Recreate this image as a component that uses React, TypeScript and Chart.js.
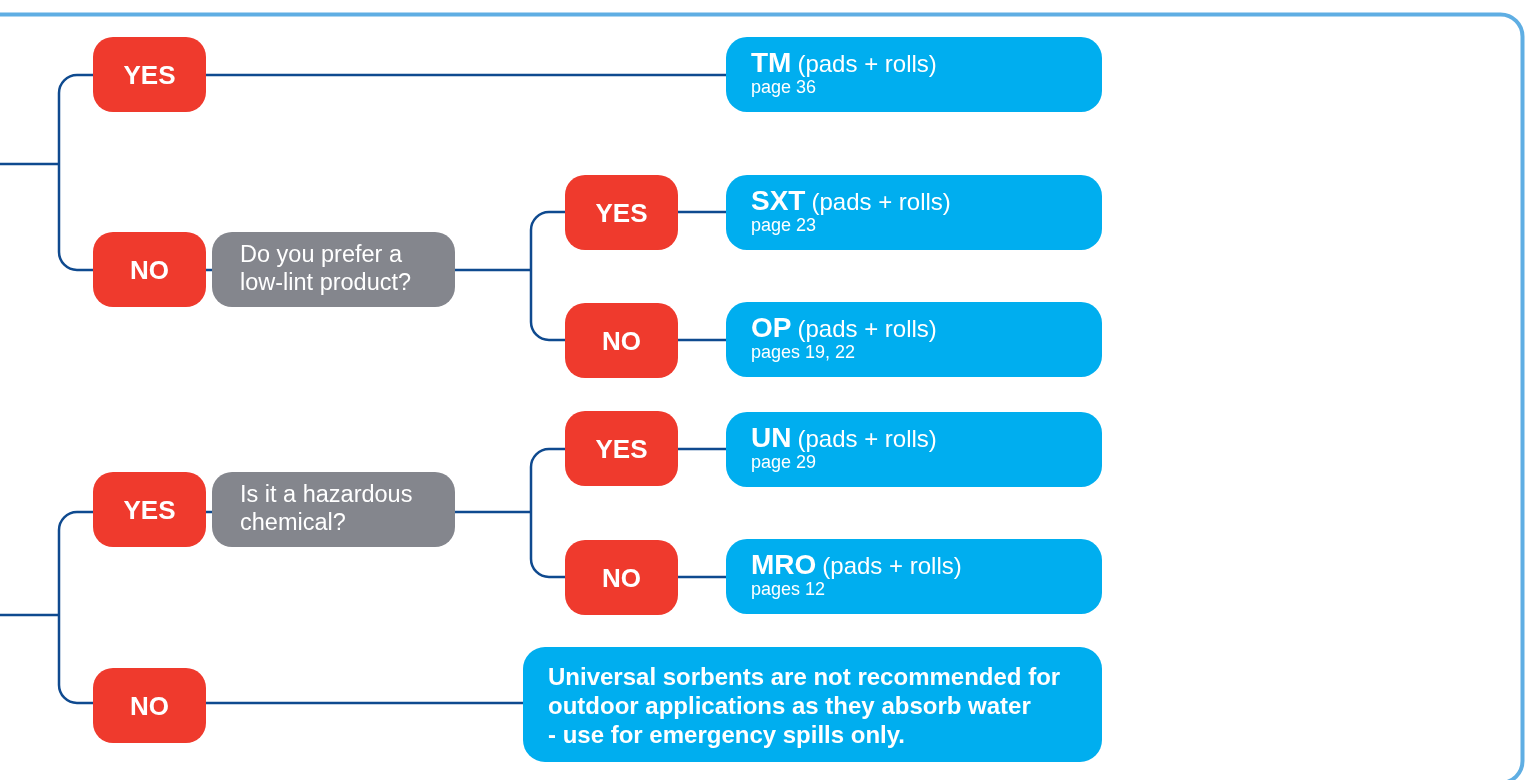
import React, { useEffect, useRef } from "react";
import { Chart, registerables } from "chart.js";

Chart.register(...registerables);

// ---- content ----
const answerLabels = ["YES", "NO", "YES", "NO", "YES", "NO", "YES", "NO"];
const questionLines = [
  ["Do you prefer a", "low-lint product?"],
  ["Is it a hazardous", "chemical?"],
];
const productCodes = ["TM", "SXT", "OP", "UN", "MRO"];
const productSuffix = "(pads + rolls)";
const productPages = ["page 36", "page 23", "pages 19, 22", "page 29", "pages 12"];
const noteLines = [
  "Universal sorbents are not recommended for",
  "outdoor applications as they absorb water",
  "- use for emergency spills only.",
];

// ---- layout (data units of the hidden 0..1525 x 0..780 scales) ----
// answers: [x0, y0, x1, y1]
const answerBoxes = [
  [93, 37, 206, 112],
  [93, 232, 206, 307],
  [565, 175, 678, 250],
  [565, 303, 678, 378],
  [565, 411, 678, 486],
  [565, 540, 678, 615],
  [93, 472, 206, 547],
  [93, 668, 206, 743],
];
const questionBoxes = [
  [212, 232, 455, 307],
  [212, 472, 455, 547],
];
const productBoxes = [
  [726, 37, 1102, 112],
  [726, 175, 1102, 250],
  [726, 302, 1102, 377],
  [726, 412, 1102, 487],
  [726, 539, 1102, 614],
];
const noteBox = [523, 647, 1102, 762];
const connectors = [
  [[0, 164], [59, 164]],
  [[93, 75], [59, 75], [59, 270], [93, 270]],
  [[206, 75], [726, 75]],
  [[206, 270], [212, 270]],
  [[455, 270], [531, 270]],
  [[565, 212], [531, 212], [531, 340], [565, 340]],
  [[678, 212], [726, 212]],
  [[678, 340], [726, 340]],
  [[0, 615], [59, 615]],
  [[93, 512], [59, 512], [59, 703], [93, 703]],
  [[206, 512], [212, 512]],
  [[455, 512], [531, 512]],
  [[565, 449], [531, 449], [531, 577], [565, 577]],
  [[678, 449], [726, 449]],
  [[678, 577], [726, 577]],
  [[206, 703], [523, 703]],
];
const frameBox = [-30, 14.5, 1522.5, 783];

const COLORS = {
  red: "#EF3A2D",
  cyan: "#00AEEF",
  gray: "#84868D",
  line: "#0F4A8F",
  frame: "#5FAEE3",
  text: "#FFFFFF",
};
const FONT = "'Liberation Sans', Arial, Helvetica, sans-serif";

function roundRect(ctx: CanvasRenderingContext2D, x0: number, y0: number, x1: number, y1: number, r: number) {
  ctx.beginPath();
  ctx.moveTo(x0 + r, y0);
  ctx.arcTo(x1, y0, x1, y1, r);
  ctx.arcTo(x1, y1, x0, y1, r);
  ctx.arcTo(x0, y1, x0, y0, r);
  ctx.arcTo(x0, y0, x1, y0, r);
  ctx.closePath();
}

const flowPlugin = {
  id: "flow",
  afterDraw(chart: any) {
    const ctx: CanvasRenderingContext2D = chart.ctx;
    const xs = chart.scales.x;
    const ys = chart.scales.y;
    const px = (v: number) => xs.getPixelForValue(v);
    const py = (v: number) => ys.getPixelForValue(v);
    const rect = (b: number[]) => [px(b[0]), py(b[1]), px(b[2]), py(b[3])];

    ctx.save();
    // frame
    const f = rect(frameBox);
    roundRect(ctx, f[0], f[1], f[2], f[3], 22);
    ctx.strokeStyle = COLORS.frame;
    ctx.lineWidth = 4;
    ctx.stroke();

    // connectors
    ctx.strokeStyle = COLORS.line;
    ctx.lineWidth = 2.5;
    ctx.lineJoin = "round";
    connectors.forEach((pts) => {
      ctx.beginPath();
      ctx.moveTo(px(pts[0][0]), py(pts[0][1]));
      for (let i = 1; i < pts.length - 1; i++) {
        ctx.arcTo(px(pts[i][0]), py(pts[i][1]), px(pts[i + 1][0]), py(pts[i + 1][1]), 18);
      }
      const last = pts[pts.length - 1];
      ctx.lineTo(px(last[0]), py(last[1]));
      ctx.stroke();
    });

    ctx.textBaseline = "alphabetic";
    ctx.fillStyle = COLORS.text;

    // answers
    answerBoxes.forEach((b, i) => {
      const r = rect(b);
      roundRect(ctx, r[0], r[1], r[2], r[3], 20);
      ctx.fillStyle = COLORS.red;
      ctx.fill();
      ctx.fillStyle = COLORS.text;
      ctx.font = `bold 26px ${FONT}`;
      ctx.textAlign = "center";
      ctx.fillText(answerLabels[i], (r[0] + r[2]) / 2, (r[1] + r[3]) / 2 + 9);
    });

    // questions
    questionBoxes.forEach((b, i) => {
      const r = rect(b);
      roundRect(ctx, r[0], r[1], r[2], r[3], 20);
      ctx.fillStyle = COLORS.gray;
      ctx.fill();
      ctx.fillStyle = COLORS.text;
      ctx.font = `23.5px ${FONT}`;
      ctx.textAlign = "left";
      questionLines[i].forEach((ln, k) => {
        ctx.fillText(ln, r[0] + 28, r[1] + 30 + k * 28);
      });
    });

    // products
    productBoxes.forEach((b, i) => {
      const r = rect(b);
      roundRect(ctx, r[0], r[1], r[2], r[3], 21);
      ctx.fillStyle = COLORS.cyan;
      ctx.fill();
      ctx.fillStyle = COLORS.text;
      ctx.textAlign = "left";
      ctx.font = `bold 28px ${FONT}`;
      const tx = r[0] + 25;
      ctx.fillText(productCodes[i], tx, r[1] + 35);
      const w = ctx.measureText(productCodes[i]).width;
      ctx.font = `24px ${FONT}`;
      ctx.fillText(productSuffix, tx + w + 6, r[1] + 35);
      ctx.font = `18px ${FONT}`;
      ctx.fillText(productPages[i], tx, r[1] + 56);
    });

    // note
    const n = rect(noteBox);
    roundRect(ctx, n[0], n[1], n[2], n[3], 22);
    ctx.fillStyle = COLORS.cyan;
    ctx.fill();
    ctx.fillStyle = COLORS.text;
    ctx.font = `bold 24px ${FONT}`;
    ctx.textAlign = "left";
    noteLines.forEach((ln, k) => {
      ctx.fillText(ln, n[0] + 25, n[1] + 38 + k * 29);
    });
    ctx.restore();
  },
};

export default function App() {
  const ref = useRef<HTMLCanvasElement | null>(null);
  useEffect(() => {
    if (!ref.current) return;
    const chart = new Chart(ref.current, {
      type: "scatter",
      data: {
        datasets: [
          {
            label: "nodes",
            data: answerBoxes.map((b) => ({ x: (b[0] + b[2]) / 2, y: (b[1] + b[3]) / 2 })),
            pointRadius: 0,
          },
        ],
      },
      options: {
        animation: false,
        responsive: false,
        maintainAspectRatio: false,
        devicePixelRatio: 1,
        layout: { padding: 0 },
        plugins: { legend: { display: false }, tooltip: { enabled: false } },
        events: [],
        scales: {
          x: { type: "linear", min: 0, max: 1525, display: false },
          y: { type: "linear", min: 0, max: 780, reverse: true, display: false },
        },
      },
      plugins: [flowPlugin],
    });
    return () => chart.destroy();
  }, []);
  return (
    <div style={{ position: "fixed", left: 0, top: 0, width: 1525, height: 780, background: "#fff" }}>
      <canvas ref={ref} width={1525} height={780} style={{ display: "block", width: 1525, height: 780 }} />
    </div>
  );
}
